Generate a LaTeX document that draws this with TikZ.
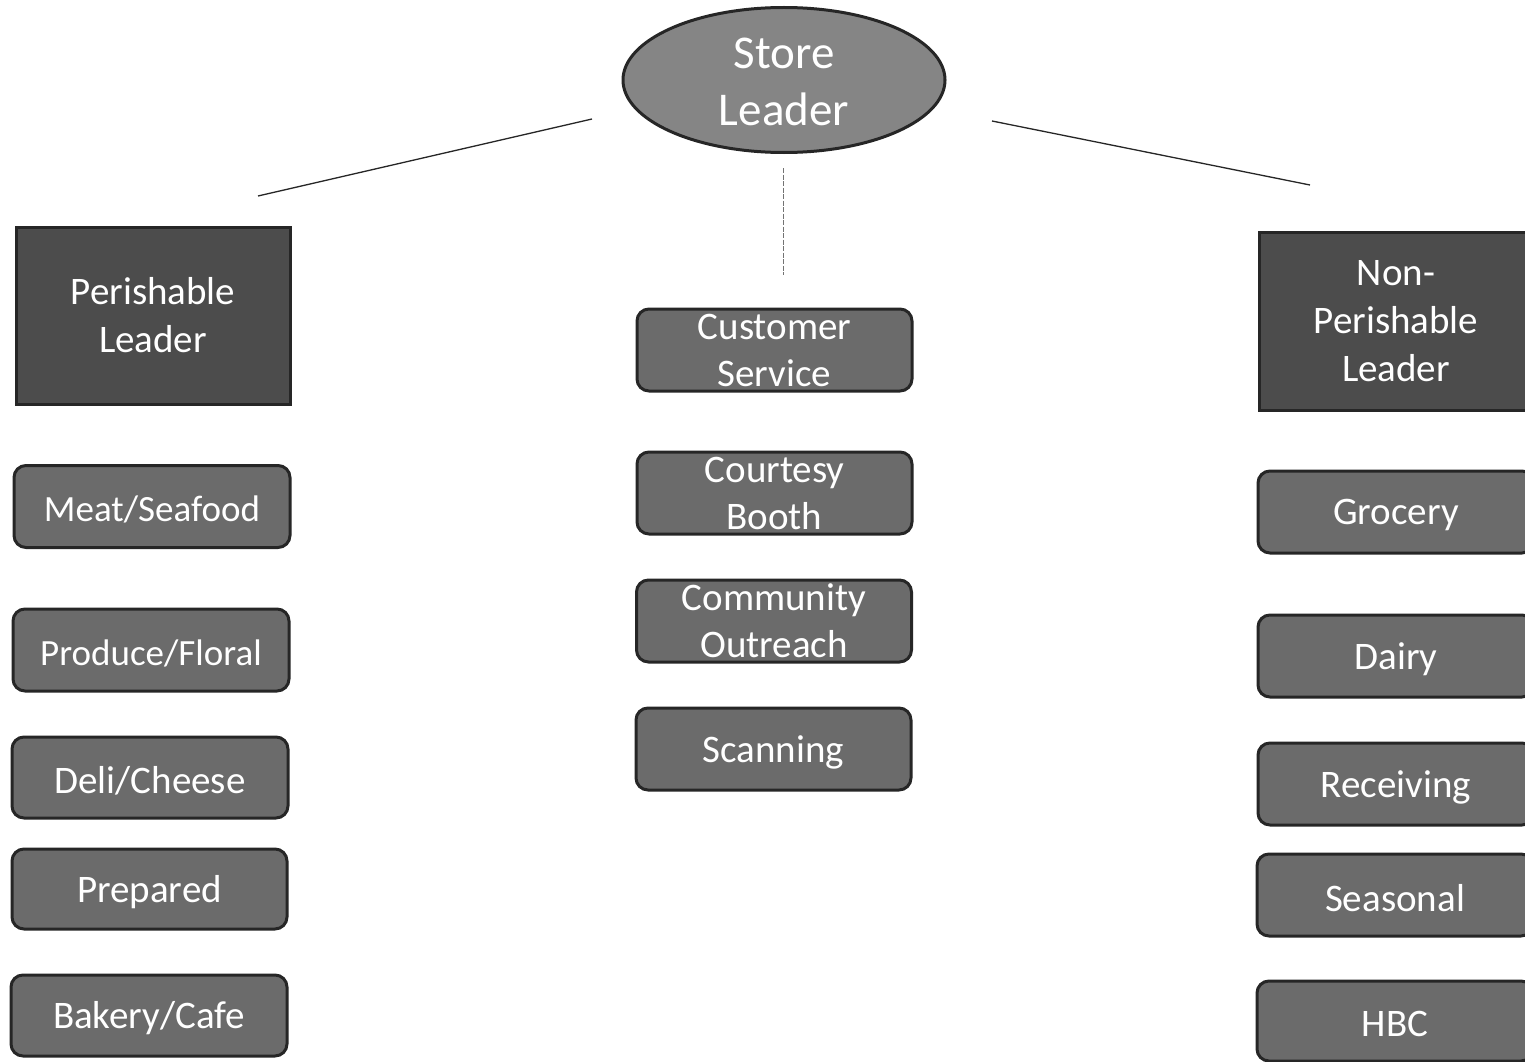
\documentclass[tikz,border=0pt]{standalone}
\usepackage{fontspec}
\setmainfont{Carlito}
\usetikzlibrary{shapes.geometric}
\newcommand{\dnx}[1]{\raisebox{-3pt}[\height][\depth]{#1}}
\newcommand{\dny}[1]{\raisebox{-2pt}[\height][\depth]{#1}}
\begin{document}
\begin{tikzpicture}[x=1pt,y=-1pt,
  base/.style={draw=black!85,line width=3pt,text=white,align=center,inner sep=0pt},
  leaderbox/.style={base,rectangle,fill=black!70,minimum width=274pt,minimum height=177pt,
    font=\fontsize{39}{48}\selectfont},
  unitbox/.style={base,rectangle,rounded corners=12pt,fill=black!58,minimum width=276pt,minimum height=82pt,
    font=\fontsize{39}{47}\selectfont},
  topnode/.style={base,ellipse,fill=black!48,minimum width=322pt,minimum height=145pt,
    font=\fontsize{47}{57}\selectfont},
  link/.style={draw=black!85,line width=1.3pt},
  vlink/.style={draw=black!55,line width=1pt,dash pattern=on 5pt off 1.5pt}]
\useasboundingbox (0,0) rectangle (1525,1062);
\fill[white] (0,0) rectangle (1525,1062);

\node[topnode] (store) at (784,80) {\dny{Store}\\\dny{Leader}};

\node[leaderbox] (per) at (153,315.5) {Perishable\\Leader};
\node[leaderbox,minimum height=178pt] (nonper) at (1396,321) {Non-\\Perishable\\Leader};

\node[unitbox,font=\fontsize{37}{45}\selectfont] (meat) at (152,506.5) {\dnx{Meat/Seafood}};
\node[unitbox,font=\fontsize{37}{45}\selectfont] (produce) at (151,650) {\dnx{Produce/Floral}};
\node[unitbox,minimum height=81pt] (deli) at (150,777.5) {\dnx{Deli/Cheese}};
\node[unitbox,minimum height=80pt,minimum width=275pt] (prepared) at (149.5,889) {\dnx{Prepared}};
\node[unitbox,minimum height=81pt] (bakery) at (149,1015.5) {\dnx{Bakery/Cafe}};

\node[unitbox,minimum width=275pt] (cust) at (774.5,350) {Customer\\Service};
\node[unitbox,minimum width=275pt] (court) at (774.5,493) {Courtesy\\Booth};
\node[unitbox,minimum width=275pt] (comm) at (774,621) {Community\\Outreach};
\node[unitbox,minimum width=275pt] (scan) at (773.5,749) {\dnx{Scanning}};

\node[unitbox] (groc) at (1396,512) {\dnx{Grocery}};
\node[unitbox] (dairy) at (1396,656) {\dnx{Dairy}};
\node[unitbox] (recv) at (1396,784) {\dnx{Receiving}};
\node[unitbox] (seas) at (1395,895) {\dnx{Seasonal}};
\node[unitbox,minimum height=80pt] (hbc) at (1395,1021) {\dnx{HBC}};

\coordinate (la) at (592,119);
\coordinate (lb) at (258,196);
\coordinate (ra) at (992,121);
\coordinate (rb) at (1310,185);
\coordinate (va) at (783,168);
\coordinate (vb) at (783,275);
\draw[link] (la) -- (lb);
\draw[link] (ra) -- (rb);
\draw[vlink] (va) -- (vb);
\end{tikzpicture}
\end{document}
